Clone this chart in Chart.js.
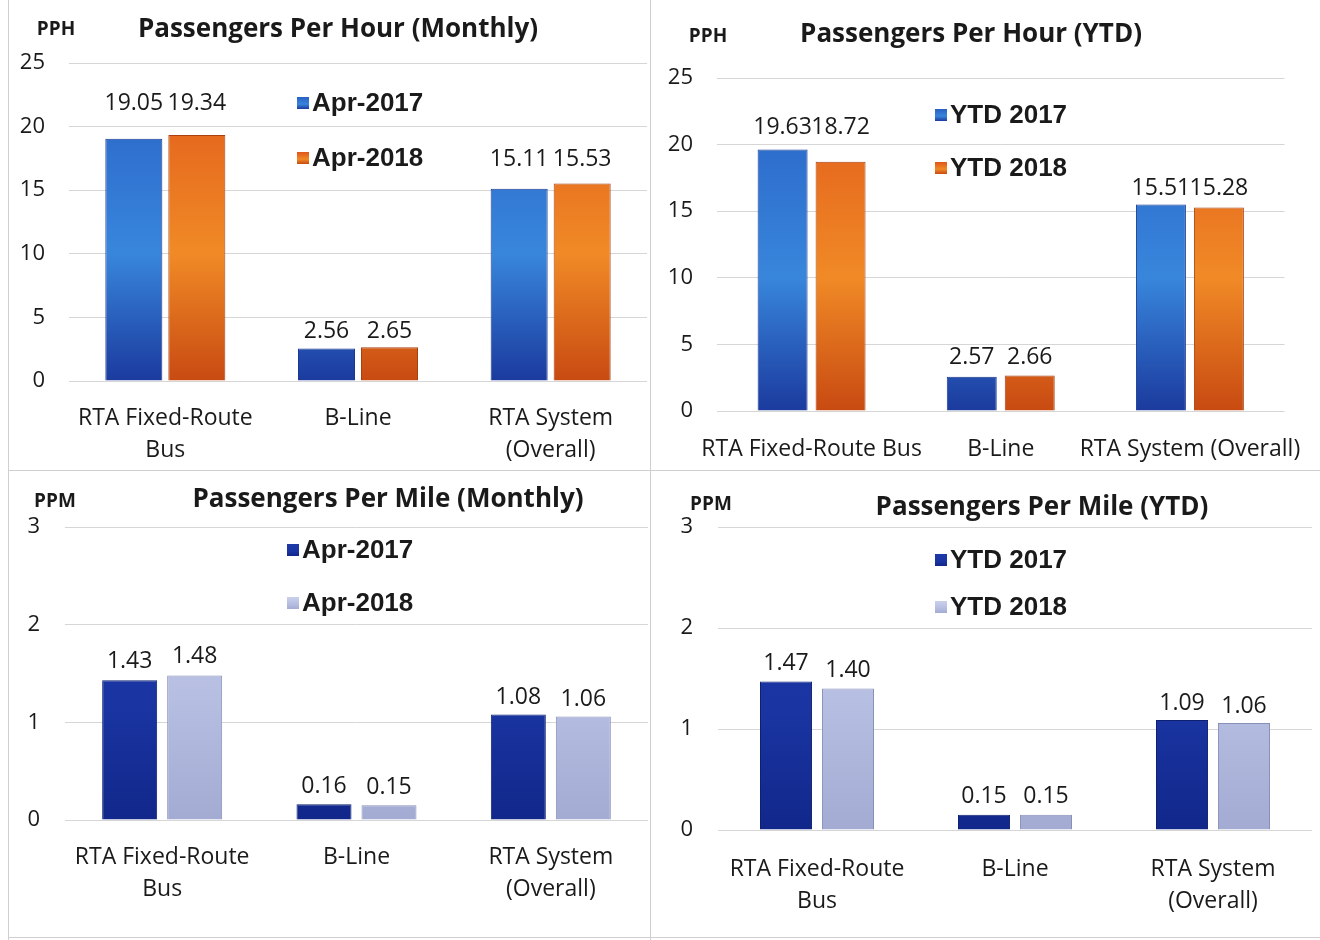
<!DOCTYPE html>
<html>
<head>
<meta charset="utf-8">
<title>RTA Passengers Per Hour / Per Mile</title>
<script src="https://cdn.jsdelivr.net/npm/chart.js@4.4.1/dist/chart.umd.min.js"></script>
<style>
  body { margin: 0; background: #fff; width: 1320px; height: 940px; overflow: hidden; position: relative; }
  canvas { position: absolute; display: block; }
  .line { position: absolute; background: #cfcfcf; }
</style>
</head>
<body>
<div class="line" style="left:8px;top:0;width:1px;height:940px"></div>
<div class="line" style="left:650px;top:0;width:1px;height:940px"></div>
<div class="line" style="left:8px;top:470px;width:1312px;height:1px"></div>
<div class="line" style="left:8px;top:937px;width:1312px;height:1px"></div>

<canvas id="chart1" style="left:8px;top:0"></canvas>
<canvas id="chart2" style="left:651px;top:0"></canvas>
<canvas id="chart3" style="left:8px;top:471px"></canvas>
<canvas id="chart4" style="left:651px;top:471px"></canvas>

<script>
// categories
const labelsTwoLine = [['RTA Fixed-Route', 'Bus'], 'B-Line', ['RTA System', '(Overall)']];
const labelsOneLine = ['RTA Fixed-Route Bus', 'B-Line', 'RTA System (Overall)'];

// passengers per hour
const pphMonthly2017 = [19.05, 2.56, 15.11];
const pphMonthly2018 = [19.34, 2.65, 15.53];
const pphYtd2017 = [19.63, 2.57, 15.51];
const pphYtd2018 = [18.72, 2.66, 15.28];

// passengers per mile
const ppmMonthly2017 = [1.43, 0.16, 1.08];
const ppmMonthly2018 = [1.48, 0.15, 1.06];
const ppmYtd2017 = [1.47, 0.15, 1.09];
const ppmYtd2018 = [1.40, 0.15, 1.06];

// axis ranges
const pphAxis = { max: 25, step: 5 };
const ppmAxis = { max: 3, step: 1 };

const FONT = '"Open Sans", "Noto Sans", sans-serif';
const LEGEND_FONT = '"Liberation Sans", Arial, sans-serif';

// bar fills (vertical gradient over the plot area)
const blueStops = [[0, '#2860c4'], [0.6, '#3886dc'], [1, '#1b3a9e']];
const orangeStops = [[0, '#e0561a'], [0.6, '#f08a26'], [1, '#c84a12']];
const navyStops = [[0, '#1d39a8'], [0.6, '#1a35a2'], [1, '#11278a']];
const lavenderStops = [[0, '#cbd1ec'], [0.6, '#b5bde1'], [1, '#a3abd3']];

function gradientFill(stops) {
    return function(context) {
        const area = context.chart.chartArea;
        if (!area) return stops[0][1];
        const g = context.chart.ctx.createLinearGradient(0, area.top, 0, area.bottom);
        stops.forEach(s => g.addColorStop(s[0], s[1]));
        return g;
    };
}

// titles, unit label, legend and value labels
const panelText = {
    id: 'panelText',
    afterDatasetsDraw(chart, args, o) {
        const ctx = chart.ctx;
        ctx.save();
        ctx.fillStyle = '#1a1a1a';
        ctx.textAlign = 'center';
        ctx.textBaseline = 'middle';
        ctx.font = '23px ' + FONT;
        const metas = chart.data.datasets.map((d, i) => chart.getDatasetMeta(i));
        chart.data.labels.forEach((lab, j) => {
            const tops = metas.map(m => m.data[j].y);
            metas.forEach((m, i) => {
                const v = chart.data.datasets[i].data[j];
                const y = o.pairLabels ? Math.min(...tops) - o.labelGaps[j] : m.data[j].y - o.labelGaps[j];
                ctx.fillText(v.toFixed(2), m.data[j].x, y);
            });
        });
        ctx.restore();
    },
    afterDraw(chart, args, o) {
        const ctx = chart.ctx;
        ctx.save();
        ctx.fillStyle = '#1a1a1a';
        ctx.textBaseline = 'middle';
        ctx.textAlign = 'center';
        ctx.font = 'bold 26px ' + FONT;
        ctx.fillText(o.title, o.titleX, o.titleY);
        ctx.font = 'bold 19px ' + FONT;
        ctx.fillText(o.unit, o.unitX, o.unitY);

        ctx.textAlign = 'left';
        ctx.font = 'bold 26px ' + LEGEND_FONT;
        chart.data.datasets.forEach((ds, i) => {
            const y = o.legendY[i];
            const g = ctx.createLinearGradient(0, y - 6, 0, y + 6);
            ds.legendStops.forEach(s => g.addColorStop(s[0], s[1]));
            ctx.fillStyle = g;
            ctx.fillRect(o.legendX, y - 6, 12, 12);
            ctx.fillStyle = '#1a1a1a';
            ctx.fillText(ds.label, o.legendX + 15, y + 1);
        });
        ctx.restore();
    }
};

function makePanel(p) {
    const canvas = document.getElementById(p.id);
    canvas.width = p.w;
    canvas.height = p.h;
    const xAxisH = p.h - p.area.bottom;
    return new Chart(canvas, {
        type: 'bar',
        data: {
            labels: p.labels,
            datasets: p.series.map(s => ({
                label: s.name,
                data: s.values,
                backgroundColor: gradientFill(s.stops),
                borderColor: s.edge,
                borderWidth: 1,
                legendStops: s.stops,
                categoryPercentage: p.catPct,
                barPercentage: p.barPct
            }))
        },
        options: {
            responsive: false,
            animation: false,
            layout: {
                padding: { top: p.area.top, left: 0, right: p.w - p.area.right, bottom: 0 }
            },
            plugins: {
                legend: { display: false },
                title: { display: false },
                tooltip: { enabled: false },
                panelText: p.text
            },
            scales: {
                x: {
                    grid: { display: false },
                    border: { display: false },
                    ticks: {
                        color: '#1a1a1a',
                        padding: p.xPad,
                        maxRotation: 0,
                        autoSkip: false,
                        font: { family: FONT, size: 23, lineHeight: 1.4 }
                    },
                    afterFit: s => { s.height = xAxisH; }
                },
                y: {
                    min: 0,
                    max: p.axis.max,
                    grid: { color: '#d6d6d6', drawTicks: false },
                    border: { display: false },
                    ticks: {
                        stepSize: p.axis.step,
                        color: '#1a1a1a',
                        padding: p.yPad,
                        font: { family: FONT, size: 22 }
                    },
                    afterFit: s => { s.width = p.area.left; }
                }
            }
        },
        plugins: [panelText]
    });
}

// Passengers Per Hour (Monthly)
makePanel({
    id: 'chart1', w: 642, h: 470,
    area: { left: 61, top: 63, right: 639, bottom: 381 },
    labels: labelsTwoLine, axis: pphAxis, catPct: 0.654, barPct: 0.905, xPad: 13, yPad: 24,
    series: [
        { name: 'Apr-2017', values: pphMonthly2017, stops: blueStops, edge: '#1a3890' },
        { name: 'Apr-2018', values: pphMonthly2018, stops: orangeStops, edge: '#a84010' }
    ],
    text: { title: 'Passengers Per Hour (Monthly)', titleX: 330, titleY: 30, unit: 'PPH', unitX: 48, unitY: 30,
            legendX: 289, legendY: [103, 158], pairLabels: true, labelGaps: [32, 16, 24] }
});

// Passengers Per Hour (YTD)
makePanel({
    id: 'chart2', w: 669, h: 470,
    area: { left: 66, top: 78, right: 634, bottom: 411 },
    labels: labelsOneLine, axis: pphAxis, catPct: 0.613, barPct: 0.862, xPad: 14, yPad: 24,
    series: [
        { name: 'YTD 2017', values: pphYtd2017, stops: blueStops, edge: '#1a3890' },
        { name: 'YTD 2018', values: pphYtd2018, stops: orangeStops, edge: '#a84010' }
    ],
    text: { title: 'Passengers Per Hour (YTD)', titleX: 320, titleY: 35, unit: 'PPH', unitX: 57, unitY: 37,
            legendX: 284, legendY: [115, 168], pairLabels: true, labelGaps: [22, 18, 16] }
});

// Passengers Per Mile (Monthly)
makePanel({
    id: 'chart3', w: 642, h: 466,
    area: { left: 57, top: 56, right: 640, bottom: 349 },
    labels: labelsTwoLine, axis: ppmAxis, catPct: 0.669, barPct: 0.846, xPad: 13, yPad: 25,
    series: [
        { name: 'Apr-2017', values: ppmMonthly2017, stops: navyStops, edge: '#0e2070' },
        { name: 'Apr-2018', values: ppmMonthly2018, stops: lavenderStops, edge: '#8890b8' }
    ],
    text: { title: 'Passengers Per Mile (Monthly)', titleX: 380, titleY: 29, unit: 'PPM', unitX: 47, unitY: 31,
            legendX: 279, legendY: [79, 132], pairLabels: false, labelGaps: [19, 18, 17] }
});

// Passengers Per Mile (YTD)
makePanel({
    id: 'chart4', w: 669, h: 466,
    area: { left: 67, top: 56, right: 661, bottom: 359 },
    labels: labelsTwoLine, axis: ppmAxis, catPct: 0.626, barPct: 0.84, xPad: 15, yPad: 25,
    series: [
        { name: 'YTD 2017', values: ppmYtd2017, stops: navyStops, edge: '#0e2070' },
        { name: 'YTD 2018', values: ppmYtd2018, stops: lavenderStops, edge: '#8890b8' }
    ],
    text: { title: 'Passengers Per Mile (YTD)', titleX: 391, titleY: 37, unit: 'PPM', unitX: 60, unitY: 34,
            legendX: 284, legendY: [89, 136], pairLabels: false, labelGaps: [18, 18, 16] }
});
</script>
</body>
</html>
